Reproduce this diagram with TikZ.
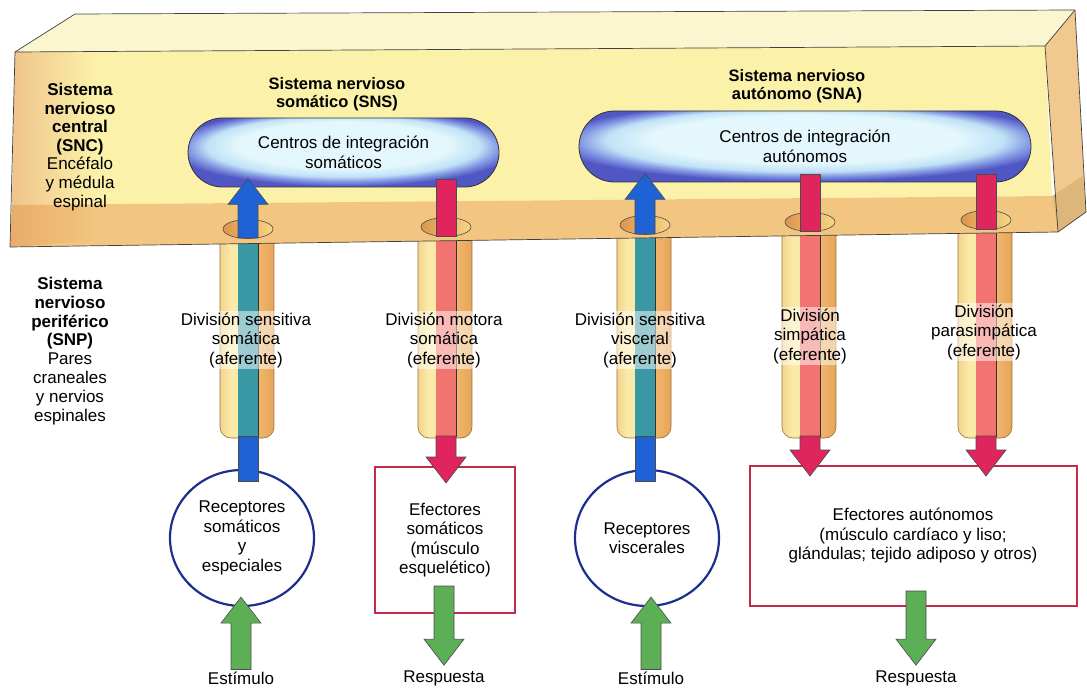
\documentclass[tikz,border=0pt]{standalone}
\usepackage{fontspec}
\setmainfont{Liberation Sans}
\usepackage{xcolor}
\usepackage{tikz}
\usetikzlibrary{arrows.meta, positioning, shapes.geometric, shapes.misc, calc}

\definecolor{topface}{RGB}{252,246,208}
\definecolor{frontface}{RGB}{251,241,168}
\definecolor{bandcolor}{RGB}{242,198,128}
\definecolor{sidecolor}{RGB}{241,201,142}
\definecolor{leftshade}{RGB}{240,196,140}
\definecolor{leftband}{RGB}{232,172,105}
\definecolor{holeleft}{RGB}{222,148,78}
\definecolor{holeright}{RGB}{246,214,130}
\definecolor{tubeyellow}{RGB}{251,233,168}
\definecolor{tubeleft}{RGB}{243,212,140}
\definecolor{tubeorange}{RGB}{233,165,88}
\definecolor{tubeedge}{RGB}{150,110,60}
\definecolor{afercolor}{RGB}{58,152,164}
\definecolor{efercolor}{RGB}{242,116,112}
\definecolor{bluearrow}{RGB}{30,98,214}
\definecolor{redarrow}{RGB}{224,36,94}
\definecolor{greenarrow}{RGB}{92,175,85}
\definecolor{recepcolor}{RGB}{28,47,143}
\definecolor{effcolor}{RGB}{194,42,78}
\definecolor{pillcenter}{RGB}{228,247,252}
\definecolor{pillmid}{RGB}{192,226,246}
\definecolor{pilldeep}{RGB}{130,150,226}
\definecolor{pillrim}{RGB}{80,86,196}

\pgfdeclareradialshading{pillshade}{\pgfpoint{0bp}{8bp}}{%
  color(0bp)=(pillcenter); color(17bp)=(pillcenter); color(22bp)=(pillmid);
  color(25bp)=(pilldeep); color(28bp)=(pillrim); color(50bp)=(pillrim)}

% fat vertical arrow from #2 (tail) to #3 (tip)
\newcommand{\blockarrow}[3][]{%
  \draw[#1] let \p1=(#2), \p2=(#3), \n1={ifthenelse(\y2>\y1,1,-1)} in
    ({\x1-10pt},\y1) -- ({\x1-10pt},{\y2-(\n1)*26pt}) -- ({\x1-20pt},{\y2-(\n1)*26pt})
    -- (\x1,\y2) -- ({\x1+20pt},{\y2-(\n1)*26pt}) -- ({\x1+10pt},{\y2-(\n1)*26pt})
    -- ({\x1+10pt},\y1) -- cycle;}
% plain bar, no head
\newcommand{\nervebar}[3][]{\draw[#1] ($(#2)+(-10,0)$) rectangle ($(#3)+(10,0)$);}

\begin{document}
\begin{tikzpicture}[x=1pt, y=-1pt,
    every node/.style={font=\fontsize{17pt}{19.5pt}\selectfont, inner sep=1pt},
    systitle/.style={align=center, font=\fontsize{16.5pt}{17.5pt}\selectfont\bfseries},
    sidetext/.style={align=center, font=\fontsize{17pt}{18.6pt}\selectfont},
    pill/.style={rounded rectangle, draw=black!80, line width=0.8pt, shade,
                 shading=pillshade, align=center},
    tubelabel/.style={align=center, fill=white, fill opacity=0.5, text opacity=1},
    recep/.style={ellipse, draw=recepcolor, line width=2.2pt, fill=white,
                  minimum width=144pt, minimum height=136pt, inner sep=0pt, align=center},
    effbox/.style={rectangle, draw=effcolor, line width=2pt, fill=white, align=center},
    bluearr/.style={fill=bluearrow, draw=black!70, line width=0.6pt},
    redarr/.style={fill=redarrow, draw=black!70, line width=0.6pt},
    greenarr/.style={fill=greenarrow, draw=black!70, line width=0.6pt},
    prismedge/.style={draw=black!75, line width=0.7pt, line join=round}
  ]
  \useasboundingbox (0,0) rectangle (1087,695);

  % Nerve tubes (under the prism)
  \foreach \cx/\sc in {248/afercolor, 446/efercolor, 645/afercolor, 810/efercolor, 986/efercolor} {
    \begin{scope}
      \clip[rounded corners=11pt] (\cx-28,215) -- (\cx-28,438) -- (\cx+26,438) -- (\cx+26,215) -- cycle;
      \fill[tubeyellow] (\cx-28,215) rectangle (\cx+26,440);
      \shade[left color=tubeleft, right color=tubeyellow] (\cx-28,215) rectangle (\cx-18,440);
      \shade[left color=tubeorange!75!tubeyellow, right color=tubeorange] (\cx+10,215) rectangle (\cx+26,440);
      \fill[\sc] (\cx-10,215) rectangle (\cx+10,440);
    \end{scope}
    \draw[black!80, line width=0.6pt] (\cx+10,215) -- (\cx+10,437);
    \draw[tubeedge, line width=0.6pt, rounded corners=11pt]
      (\cx-28,215) -- (\cx-28,438) -- (\cx+26,438) -- (\cx+26,215);
  }

  % Prism (SNC)
  \fill[topface] (75,14) -- (1075,10) -- (1045,46) -- (15,52) -- cycle;
  \fill[frontface] (15,52) -- (1045,46) -- (1052,196) -- (12,205) -- cycle;
  \fill[bandcolor] (12,205) -- (1052,196) -- (1058,232) -- (10,247) -- cycle;
  \fill[sidecolor] (1045,46) -- (1075,10) -- (1086,212) -- (1058,232) -- cycle;
  \fill[bandcolor!90!black!95] (1052,196) -- (1083,176) -- (1086,212) -- (1058,232) -- cycle;
  \shade[left color=leftshade, right color=frontface] (15,52) -- (95,51.5) -- (95,204.3) -- (12,205) -- cycle;
  \shade[left color=leftband, right color=bandcolor] (12,205) -- (95,204.3) -- (95,241) -- (10,247) -- cycle;
  \draw[prismedge] (15,52) -- (75,14) -- (1075,10) -- (1086,212) -- (1058,232) -- (10,247) -- cycle;
  \draw[prismedge] (15,52) -- (1045,46) -- (1075,10);
  \draw[prismedge] (1045,46) -- (1058,232);

  % Holes
  \coordinate (hole1) at (248,229);
  \coordinate (hole2) at (446,227);
  \coordinate (hole3) at (645,225);
  \coordinate (hole4) at (810,222);
  \coordinate (hole5) at (986,220);
  \foreach \h in {hole1, hole2, hole3, hole4, hole5}
    \shade[left color=holeleft, right color=holeright, draw=black!70, line width=0.6pt]
      (\h) ellipse [x radius=25pt, y radius=9.5pt];

  % Side texts
  \node[sidetext] (snc) at (80,147)
    {\textbf{Sistema}\\\textbf{nervioso}\\\textbf{central}\\\textbf{(SNC)}\\Encéfalo\\y médula\\espinal};
  \node[sidetext, font=\fontsize{17pt}{18.9pt}\selectfont] (snp) at (70,351)
    {\textbf{Sistema}\\\textbf{nervioso}\\\textbf{periférico}\\\textbf{(SNP)}\\Pares\\craneales\\y nervios\\espinales};

  % Integration centres
  \node[systitle] (snstitle) at (337,94) {Sistema nervioso\\somático (SNS)};
  \node[systitle] (snatitle) at (797,86) {Sistema nervioso\\autónomo (SNA)};
  \node[pill, minimum width=313pt, minimum height=69pt] (sns) at (343.5,152.5)
    {Centros de integración\\somáticos};
  \node[pill, minimum width=454pt, minimum height=71pt] (sna) at (805,146.5)
    {Centros de integración\\autónomos};

  % Arrows inside the SNC
  \blockarrow[bluearr]{$(hole1)+(0,9)$}{$(hole1 |- sns.south)+(0,-9)$}
  \blockarrow[bluearr]{$(hole3)+(0,9)$}{$(hole3 |- sna.south)+(0,-9)$}
  \nervebar[redarr]{$(hole2 |- sns.south)+(0,-8)$}{$(hole2)+(0,9)$}
  \nervebar[redarr]{$(hole4 |- sna.south)+(0,-8)$}{$(hole4)+(0,9)$}
  \nervebar[redarr]{$(hole5 |- sna.south)+(0,-8)$}{$(hole5)+(0,9)$}

  % Division labels
  \node[tubelabel] (dss) at (246,340) {División sensitiva\\somática\\(aferente)};
  \node[tubelabel] (dms) at (444,340) {División motora\\somática\\(eferente)};
  \node[tubelabel] (dsv) at (640,340) {División sensitiva\\visceral\\(aferente)};
  \node[tubelabel] (dsimp) at (810,336) {División\\simpática\\(eferente)};
  \node[tubelabel] (dpara) at (984,332) {División\\parasimpática\\(eferente)};

  % Receptors and effectors
  \node[recep] (rec1) at (242,538) {Receptores\\somáticos\\y\\especiales};
  \node[effbox, minimum width=140pt, minimum height=146pt] (eff1) at (445,540)
    {Efectores\\somáticos\\(músculo\\esquelético)};
  \node[recep] (rec2) at (647,538) {Receptores\\viscerales};
  \node[effbox, minimum width=327pt, minimum height=140pt] (eff2) at (913,536)
    {Efectores autónomos\\(músculo cardíaco y liso;\\glándulas; tejido adiposo y otros)};

  \node (stim1) at (241,678) {Estímulo};
  \node (resp1) at (444,678) {Respuesta};
  \node (stim2) at (651,678) {Estímulo};
  \node (resp2) at (916,678) {Respuesta};

  % Tube ends
  \coordinate (tb1) at (248,436);
  \coordinate (tb2) at (446,436);
  \coordinate (tb3) at (645,436);
  \coordinate (tb4) at (810,436);
  \coordinate (tb5) at (986,436);

  % Arrows: PNS
  \nervebar[bluearr]{tb1}{$(tb1 |- rec1.north)+(0,12)$}
  \nervebar[bluearr]{tb3}{$(tb3 |- rec2.north)+(0,12)$}
  \blockarrow[redarr]{tb2}{$(tb2 |- eff1.north)+(0,17)$}
  \blockarrow[redarr]{tb4}{$(tb4 |- eff2.north)+(0,11)$}
  \blockarrow[redarr]{tb5}{$(tb5 |- eff2.north)+(0,11)$}

  % Arrows: stimulus and response
  \blockarrow[greenarr]{$(stim1.north)+(0,-1)$}{$(stim1 |- rec1.south)+(0,-10)$}
  \blockarrow[greenarr]{$(stim2.north)+(0,-1)$}{$(stim2 |- rec2.south)+(0,-10)$}
  \blockarrow[greenarr]{$(resp1 |- eff1.south)+(0,-28)$}{$(resp1.north)+(0,-4)$}
  \blockarrow[greenarr]{$(resp2 |- eff2.south)+(0,-16)$}{$(resp2.north)+(0,-4)$}
\end{tikzpicture}
\end{document}
